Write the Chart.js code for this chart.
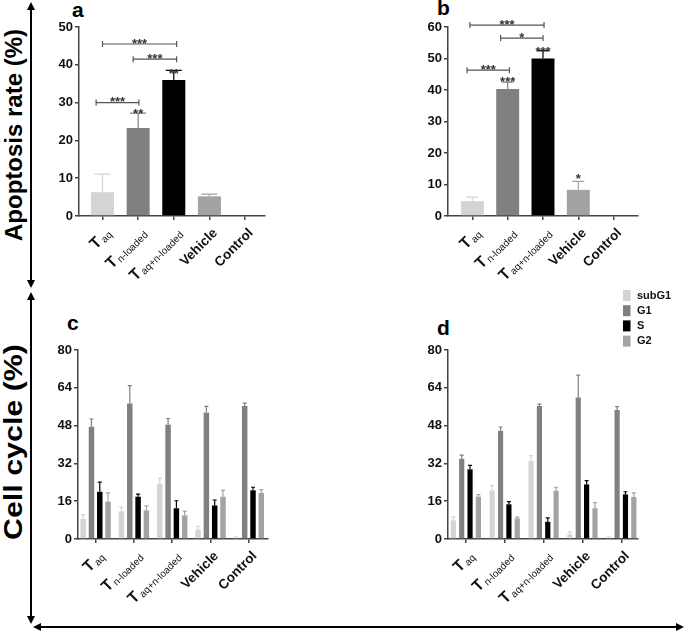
<!DOCTYPE html>
<html>
<head>
<meta charset="utf-8">
<script src="https://cdn.jsdelivr.net/npm/chart.js@4"></script>
<style>
  body { margin: 0; background: #fff; width: 685px; height: 632px; overflow: hidden; position: relative; }
  canvas { position: absolute; }
  svg { position: absolute; left: 0; top: 0; }
</style>
</head>
<body>
<svg width="685" height="632" font-family="'Liberation Sans', Arial, sans-serif" font-weight="bold">
  <text x="72" y="17" font-size="21">a</text>
  <text x="437" y="15" font-size="21">b</text>
  <text x="67" y="330" font-size="21">c</text>
  <text x="437" y="335" font-size="21">d</text>
  <text transform="translate(22,135) rotate(-90)" text-anchor="middle" font-size="24" textLength="212" lengthAdjust="spacingAndGlyphs">Apoptosis rate (%)</text>
  <text transform="translate(22,442) rotate(-90)" text-anchor="middle" font-size="25" textLength="196" lengthAdjust="spacingAndGlyphs">Cell cycle (%)</text>
  <g stroke="#000" stroke-width="2">
    <line x1="31" y1="8" x2="31" y2="282"/>
    <line x1="31" y1="298" x2="31" y2="618"/>
    <line x1="39" y1="627" x2="678" y2="627"/>
  </g>
  <g fill="#000">
    <polygon points="31,2 27,10 35,10"/>
    <polygon points="31,288 27,280 35,280"/>
    <polygon points="31,292 27,300 35,300"/>
    <polygon points="31,624 27,616 35,616"/>
    <polygon points="33,627 41,623 41,631"/>
    <polygon points="684,627 676,623 676,631"/>
  </g>
</svg>
<canvas id="ca" width="240" height="290" style="left:40px;top:0px"></canvas>
<canvas id="cb" width="250" height="290" style="left:400px;top:0px"></canvas>
<canvas id="cc" width="240" height="320" style="left:40px;top:290px"></canvas>
<canvas id="cd" width="285" height="330" style="left:400px;top:280px"></canvas>
<script>
// categories (T + subscript)
const labelMain = ['T', 'T', 'T', 'Vehicle', 'Control'];
const labelSub = ['aq', 'n-loaded', 'aq+n-loaded', '', ''];

// apoptosis rate (%) and error (SD)
const apoA = [6.3, 23.3, 36.0, 5.2, 0.2];
const apoAErr = [4.8, 3.9, 2.5, 0.6, 0];
const apoB = [4.7, 40.3, 50.0, 8.3, 0.2];
const apoBErr = [1.3, 2.2, 2.5, 2.7, 0];

// cell cycle phases
const phases = ['subG1', 'G1', 'S', 'G2'];
const subG1C = [8.5, 11.7, 23.4, 4.0, 0.5];
const subG1CErr = [1.8, 1.7, 2.4, 1.4, 0.3];
const g1C = [47.5, 57.4, 48.4, 53.5, 56.3];
const g1CErr = [3.3, 7.5, 2.6, 2.6, 1.2];
const sC = [20.0, 17.9, 13.0, 14.2, 20.6];
const sCErr = [4.1, 1.1, 3.2, 2.3, 1.3];
const g2C = [15.8, 12.1, 10.0, 17.9, 19.5];
const g2CErr = [3.7, 1.9, 1.8, 2.7, 1.4];

const subG1D = [7.9, 20.6, 33.0, 2.0, 0.5];
const subG1DErr = [1.4, 2.0, 2.3, 1.0, 0.3];
const g1D = [33.9, 45.8, 56.3, 59.9, 54.6];
const g1DErr = [1.6, 1.6, 0.8, 9.5, 1.4];
const sD = [29.5, 14.7, 7.3, 23.1, 18.9];
const sDErr = [1.7, 1.1, 1.6, 1.6, 1.1];
const g2D = [17.9, 8.7, 20.4, 13.0, 17.8];
const g2DErr = [0.9, 0.6, 1.5, 2.4, 1.7];

// significance marks: [fromX, toX, y, text] and [x, y, text]
const bracketsA = [[-0.18, 1.02, 30, '***'], [0, 2.08, 45.5, '***'], [0.86, 2.08, 41.5, '***']];
const starsA = [[1, 28, '**'], [2, 38.5, '**']];
const bracketsB = [[-0.07, 2.03, 60.6, '***'], [0.8, 2.0, 56.5, '*'], [-0.15, 1.05, 46.3, '***']];
const starsB = [[1, 43.8, '***'], [2, 53.3, '***'], [3, 12.7, '*']];

const phaseColors = ['#d4d4d4', '#808080', '#000000', '#a3a3a3'];
const barColors = ['#d4d4d4', '#808080', '#000000', '#a3a3a3', '#555555'];
const FONT = "'Liberation Sans', Arial, sans-serif";
const AXIS = '#444';

const pts = arr => arr.map((v, i) => ({ x: i, y: v }));

const extras = {
  id: 'extras',
  afterDatasetsDraw(chart, args, opts) {
    const ctx = chart.ctx;
    const xs = chart.scales.x, ys = chart.scales.y;
    ctx.save();
    // error bars (upper only)
    chart.data.datasets.forEach((ds, di) => {
      const meta = chart.getDatasetMeta(di);
      meta.data.forEach((bar, i) => {
        const e = ds.errors[i];
        if (!e) return;
        const top = ys.getPixelForValue(ds.data[i].y + e);
        const col = Array.isArray(ds.backgroundColor) ? ds.backgroundColor[i] : ds.backgroundColor;
        ctx.strokeStyle = col;
        ctx.lineWidth = 1.2;
        ctx.beginPath();
        ctx.moveTo(bar.x, bar.y);
        ctx.lineTo(bar.x, top);
        ctx.moveTo(bar.x - opts.cap / 2, top);
        ctx.lineTo(bar.x + opts.cap / 2, top);
        ctx.stroke();
      });
    });
    // brackets
    ctx.fillStyle = '#333';
    ctx.strokeStyle = '#555';
    ctx.lineWidth = 1.2;
    ctx.textAlign = 'center';
    ctx.textBaseline = 'alphabetic';
    ctx.font = 'bold 13px ' + FONT;
    (opts.brackets || []).forEach(([a, b, v, t]) => {
      const x1 = xs.getPixelForValue(a), x2 = xs.getPixelForValue(b), yp = ys.getPixelForValue(v);
      ctx.beginPath();
      ctx.moveTo(x1, yp); ctx.lineTo(x2, yp);
      ctx.moveTo(x1, yp - 3); ctx.lineTo(x1, yp + 3);
      ctx.moveTo(x2, yp - 3); ctx.lineTo(x2, yp + 3);
      ctx.stroke();
      ctx.fillText(t, (x1 + x2) / 2, yp + 3.5);
    });
    (opts.stars || []).forEach(([a, v, t]) => {
      ctx.fillText(t, xs.getPixelForValue(a), ys.getPixelForValue(v) + 7.5);
    });
    ctx.restore();
  },
  afterDraw(chart, args, opts) {
    const ctx = chart.ctx;
    const xs = chart.scales.x;
    const bottom = chart.chartArea.bottom;
    ctx.save();
    ctx.fillStyle = '#111';
    ctx.textBaseline = 'middle';
    labelMain.forEach((m, i) => {
      const px = xs.getPixelForValue(i);
      const big = labelSub[i] ? 'bold 16px ' : 'bold 13.5px ';
      const small = '10px ';
      ctx.save();
      ctx.translate(px + 6, bottom + 15);
      ctx.rotate(-Math.PI / 4);
      ctx.font = big + FONT;
      const wm = ctx.measureText(m).width;
      ctx.font = small + FONT;
      const ws = labelSub[i] ? ctx.measureText(labelSub[i]).width + 1.5 : 0;
      const start = -(wm + ws);
      ctx.font = big + FONT;
      ctx.fillText(m, start, 0);
      if (labelSub[i]) {
        ctx.font = small + FONT;
        ctx.fillText(labelSub[i], start + wm + 1.5, 3.5);
      }
      ctx.restore();
    });
    // legend
    if (opts.legend) {
      const [lx, ly] = opts.legend;
      ctx.font = 'bold 11px ' + FONT;
      chart.data.datasets.forEach((ds, i) => {
        const cy = ly + i * 15.2;
        ctx.fillStyle = ds.backgroundColor;
        ctx.fillRect(lx, cy - 5.5, 7.5, 11);
        ctx.fillStyle = '#111';
        ctx.fillText(ds.label, lx + 14, cy);
      });
    }
    ctx.restore();
  }
};

function makeChart(id, datasets, o) {
  return new Chart(document.getElementById(id), {
    type: 'bar',
    data: { datasets },
    plugins: [extras],
    options: {
      responsive: false,
      animation: false,
      devicePixelRatio: 1,
      layout: { padding: o.padding },
      datasets: { bar: { categoryPercentage: o.catPct, barPercentage: o.barPct, grouped: true } },
      plugins: {
        legend: { display: false },
        tooltip: { enabled: false },
        extras: { cap: o.cap, brackets: o.brackets, stars: o.stars, legend: o.legend }
      },
      scales: {
        x: {
          type: 'linear',
          min: o.xMin, max: o.xMax,
          offset: false,
          grid: { display: true, drawOnChartArea: false, drawTicks: true, tickLength: 4, color: AXIS, lineWidth: 1.5, offset: false },
          border: { display: true, color: AXIS, width: 1.5 },
          ticks: { display: false },
          afterBuildTicks: s => { s.ticks = labelMain.map((_, i) => ({ value: i })); },
          afterFit: s => { s.height = 60; }
        },
        y: {
          min: 0, max: o.yMax,
          grid: { display: true, drawOnChartArea: false, drawTicks: true, tickLength: 4, color: AXIS, lineWidth: 1.5 },
          border: { display: true, color: AXIS, width: 1.5 },
          ticks: { stepSize: o.yStep, color: '#111', padding: 2, font: { family: FONT, size: 13, weight: 'bold' } },
          afterFit: s => { s.width = o.yWidth; }
        }
      }
    }
  });
}

makeChart('ca', [
  { label: 'Apoptosis', data: pts(apoA), errors: apoAErr, backgroundColor: barColors }
], { padding: { left: 0, top: 27, right: 15, bottom: 14 }, yWidth: 39, xMin: -0.66, xMax: 4.56,
     yMax: 50, yStep: 10, catPct: 1, barPct: 0.646, cap: 16, brackets: bracketsA, stars: starsA });

makeChart('cb', [
  { label: 'Apoptosis', data: pts(apoB), errors: apoBErr, backgroundColor: barColors }
], { padding: { left: 9, top: 27, right: 12, bottom: 14 }, yWidth: 39, xMin: -0.69, xMax: 4.69,
     yMax: 60, yStep: 10, catPct: 1, barPct: 0.65, cap: 12, brackets: bracketsB, stars: starsB });

makeChart('cc', [
  { label: phases[0], data: pts(subG1C), errors: subG1CErr, backgroundColor: phaseColors[0] },
  { label: phases[1], data: pts(g1C), errors: g1CErr, backgroundColor: phaseColors[1] },
  { label: phases[2], data: pts(sC), errors: sCErr, backgroundColor: phaseColors[2] },
  { label: phases[3], data: pts(g2C), errors: g2CErr, backgroundColor: phaseColors[3] }
], { padding: { left: 0, top: 60, right: 12, bottom: 11 }, yWidth: 38, xMin: -0.46, xMax: 4.5,
     yMax: 80, yStep: 16, catPct: 0.867, barPct: 0.66, cap: 4 });

makeChart('cd', [
  { label: phases[0], data: pts(subG1D), errors: subG1DErr, backgroundColor: phaseColors[0] },
  { label: phases[1], data: pts(g1D), errors: g1DErr, backgroundColor: phaseColors[1] },
  { label: phases[2], data: pts(sD), errors: sDErr, backgroundColor: phaseColors[2] },
  { label: phases[3], data: pts(g2D), errors: g2DErr, backgroundColor: phaseColors[3] }
], { padding: { left: 10, top: 70, right: 47, bottom: 11 }, yWidth: 38, xMin: -0.46, xMax: 4.43,
     yMax: 80, yStep: 16, catPct: 0.86, barPct: 0.62, cap: 4, legend: [223, 15.5] });
</script>
</body>
</html>
